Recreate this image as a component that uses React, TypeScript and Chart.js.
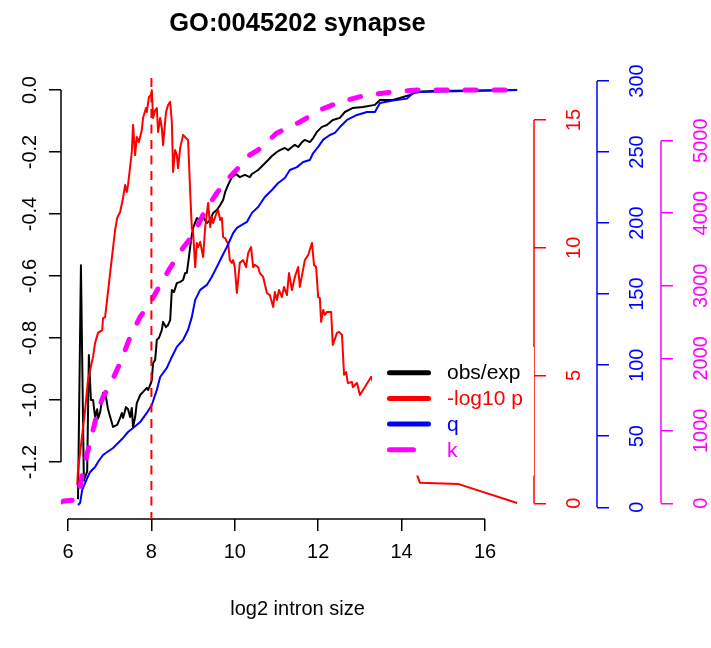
import React, { useEffect, useRef } from "react";
import { Chart, registerables } from "chart.js";

Chart.register(...registerables);

const TITLE = "GO:0045202 synapse";
const X_TITLE = "log2 intron size";
const X_TICKS = [6, 8, 10, 12, 14, 16];
const OBS_TICKS = [-1.2, -1.0, -0.8, -0.6, -0.4, -0.2, 0.0];
const P_TICKS = [0, 5, 10, 15];
const Q_TICKS = [0, 50, 100, 150, 200, 250, 300];
const K_TICKS = [0, 1000, 2000, 3000, 4000, 5000];
const CUTOFF_X = 8;
const LEGEND_LABELS = ["obs/exp", "-log10 p", "q", "k"];

// obs/exp
const obsX = [6.24, 6.31, 6.38, 6.46, 6.5, 6.55, 6.6, 6.65, 6.7, 6.72, 6.77, 6.84, 6.89, 6.96, 7.08, 7.18, 7.25, 7.29, 7.32, 7.39, 7.44, 7.49, 7.53, 7.56, 7.61, 7.65, 7.73, 7.8, 7.89, 7.92, 7.99, 8.01, 8.04, 8.09, 8.13, 8.18, 8.25, 8.28, 8.35, 8.4, 8.45, 8.49, 8.54, 8.61, 8.69, 8.76, 8.81, 8.85, 8.9, 8.95, 9.0, 9.09, 9.17, 9.24, 9.33, 9.41, 9.48, 9.57, 9.65, 9.72, 9.77, 9.84, 9.93, 10.03, 10.12, 10.24, 10.36, 10.41, 10.56, 10.68, 10.8, 10.89, 11.01, 11.08, 11.2, 11.28, 11.37, 11.44, 11.52, 11.61, 11.68, 11.8, 11.88, 11.97, 12.09, 12.21, 12.35, 12.52, 12.64, 12.83, 13.07, 13.36, 13.48, 13.79, 13.96, 14.2, 14.37, 14.75, 16.77];
const obsY = [-1.32, -0.565, -1.26, -1.23, -0.855, -1.0, -1.0, -1.055, -1.03, -1.06, -1.04, -0.977, -0.974, -1.03, -1.087, -1.08, -1.058, -1.042, -1.058, -1.023, -1.03, -1.055, -1.026, -1.087, -1.055, -1.01, -0.984, -0.974, -0.961, -0.968, -0.945, -0.935, -0.881, -0.871, -0.806, -0.8, -0.774, -0.748, -0.765, -0.758, -0.742, -0.645, -0.652, -0.623, -0.619, -0.613, -0.59, -0.59, -0.539, -0.484, -0.445, -0.413, -0.419, -0.41, -0.429, -0.419, -0.397, -0.387, -0.371, -0.355, -0.329, -0.306, -0.281, -0.271, -0.281, -0.274, -0.281, -0.271, -0.258, -0.242, -0.226, -0.213, -0.2, -0.194, -0.187, -0.194, -0.184, -0.177, -0.184, -0.168, -0.161, -0.168, -0.155, -0.135, -0.119, -0.113, -0.097, -0.09, -0.071, -0.058, -0.055, -0.048, -0.032, -0.032, -0.026, -0.016, -0.006, -0.003, 0.0];

// -log10 p
const pX = [6.22, 6.24, 6.41, 6.48, 6.6, 6.65, 6.72, 6.82, 6.84, 6.89, 7.01, 7.13, 7.18, 7.25, 7.32, 7.37, 7.41, 7.44, 7.53, 7.56, 7.61, 7.65, 7.7, 7.77, 7.8, 7.87, 7.89, 7.94, 7.99, 8.01, 8.04, 8.09, 8.13, 8.16, 8.21, 8.25, 8.28, 8.35, 8.4, 8.45, 8.49, 8.52, 8.57, 8.61, 8.64, 8.69, 8.76, 8.83, 8.88, 8.93, 8.97, 9.0, 9.05, 9.09, 9.12, 9.17, 9.24, 9.29, 9.36, 9.41, 9.45, 9.48, 9.57, 9.6, 9.65, 9.69, 9.72, 9.77, 9.81, 9.84, 9.88, 9.93, 9.96, 10.0, 10.05, 10.12, 10.2, 10.27, 10.32, 10.39, 10.44, 10.48, 10.56, 10.6, 10.68, 10.77, 10.84, 10.92, 10.96, 11.01, 11.06, 11.13, 11.18, 11.25, 11.3, 11.37, 11.44, 11.52, 11.56, 11.68, 11.76, 11.85, 11.9, 11.95, 12.0, 12.04, 12.07, 12.12, 12.16, 12.21, 12.31, 12.35, 12.45, 12.5, 12.57, 12.62, 12.67, 12.71, 12.81, 12.83, 12.93, 13.0, 13.12, 13.27, 13.72, 14.2, 14.37, 14.44, 15.35, 16.77];
const pY = [0.72, 1.3, 3.65, 4.83, 5.73, 6.28, 6.67, 6.78, 7.25, 7.29, 9.01, 10.7, 11.17, 11.4, 11.95, 12.46, 12.18, 12.46, 13.75, 14.81, 13.63, 14.34, 14.14, 14.61, 15.08, 15.47, 15.31, 15.9, 15.98, 16.17, 15.08, 15.39, 15.47, 14.53, 15.08, 14.69, 14.02, 15.31, 15.59, 15.71, 14.93, 12.97, 13.83, 13.63, 13.12, 13.91, 14.42, 14.3, 14.22, 12.18, 10.77, 10.62, 9.24, 10.19, 10.03, 10.23, 9.64, 10.81, 11.75, 10.81, 11.21, 10.97, 11.4, 11.48, 11.09, 11.17, 10.42, 10.38, 10.23, 10.19, 9.52, 9.41, 9.52, 9.24, 8.23, 9.41, 9.52, 9.24, 9.79, 10.03, 9.24, 9.33, 9.24, 9.01, 8.86, 8.23, 8.15, 7.68, 8.27, 7.96, 8.35, 8.07, 8.47, 8.15, 9.01, 8.35, 8.86, 9.25, 8.47, 9.52, 9.72, 10.19, 9.33, 9.25, 8.07, 8.03, 7.1, 7.57, 7.37, 7.49, 7.49, 6.2, 6.67, 6.71, 6.59, 5.03, 5.14, 4.71, 4.75, 4.55, 4.71, 4.24, 4.55, 4.95, 2.87, 1.38, 1.11, 0.8, 0.76, 0.01];

// q
const qX = [6.24, 6.29, 6.34, 6.46, 6.53, 6.65, 6.72, 6.84, 6.94, 7.08, 7.2, 7.32, 7.44, 7.56, 7.73, 7.89, 8.01, 8.13, 8.21, 8.37, 8.49, 8.61, 8.76, 8.88, 8.97, 9.05, 9.17, 9.33, 9.45, 9.57, 9.69, 9.81, 9.96, 10.05, 10.17, 10.29, 10.41, 10.56, 10.72, 10.89, 11.04, 11.2, 11.32, 11.49, 11.64, 11.8, 11.88, 12.0, 12.12, 12.28, 12.4, 12.52, 12.69, 12.93, 13.17, 13.36, 13.48, 13.79, 14.13, 14.27, 14.44, 16.77];
const qY = [1.6, 3.0, 12.2, 20.6, 24.8, 28.4, 31.9, 36.8, 38.9, 41.7, 45.3, 48.8, 53.0, 55.8, 60.0, 66.4, 72.0, 82.6, 91.7, 98.1, 105.8, 112.9, 117.8, 124.9, 134.0, 146.0, 153.0, 156.5, 162.2, 169.2, 176.3, 183.2, 193.0, 196.6, 198.7, 200.8, 207.2, 211.3, 218.4, 223.3, 228.2, 231.7, 237.4, 239.4, 243.0, 244.4, 249.3, 253.6, 258.7, 262.0, 263.5, 267.6, 272.6, 276.1, 278.2, 278.2, 284.5, 286.3, 287.6, 291.6, 292.3, 293.7];

// k
const kX = [5.84, 5.9, 6.19, 6.29, 6.36, 6.48, 6.6, 6.72, 6.84, 7.01, 7.25, 7.49, 7.73, 7.97, 8.21, 8.45, 8.76, 9.0, 9.24, 9.41, 9.57, 9.81, 10.08, 10.36, 10.56, 11.01, 11.56, 12.04, 12.52, 13.17, 13.79, 14.37, 16.77];
const kY = [18, 32, 45, 225, 459, 735, 1011, 1287, 1466, 1631, 1935, 2294, 2570, 2763, 3013, 3248, 3524, 3703, 3979, 4141, 4279, 4458, 4624, 4803, 4872, 5107, 5258, 5424, 5534, 5631, 5672, 5700, 5700];

const X_MIN = 5.832;
const X_MAX = 17.175;
const OBS_MIN = -1.3839;
const OBS_MAX = 0.0387;
const P_MIN = -0.6145;
const P_MAX = 16.646;
const Q_MIN = -8.234;
const Q_MAX = 302.11;
const K_MIN = -216.5;
const K_MAX = 5864.9;

const RED = "#ff0000";
const BLUE = "#0000ff";
const MAGENTA = "#ff00ff";
const BLACK = "#000000";
const LEGEND_COLORS = [BLACK, RED, BLUE, MAGENTA];
const FONT = "'Liberation Sans', Arial, Helvetica, sans-serif";

const pts = (xs: number[], ys: number[]) => xs.map((x, i) => ({ x, y: ys[i] }));

const axisSpecs = [
  { id: "y", ticks: OBS_TICKS, color: BLACK, side: "left", fmt: (v: number) => v.toFixed(1) },
  { id: "yP", ticks: P_TICKS, color: RED, side: "right", fmt: (v: number) => String(v) },
  { id: "yQ", ticks: Q_TICKS, color: BLUE, side: "right", fmt: (v: number) => String(v) },
  { id: "yK", ticks: K_TICKS, color: MAGENTA, side: "right", fmt: (v: number) => String(v) },
];

const rAxesPlugin = {
  id: "rAxes",
  beforeDatasetsDraw(chart: any) {
    const ctx = chart.ctx;
    ctx.save();
    ctx.lineWidth = 1.5;
    ctx.font = `20px ${FONT}`;
    for (const spec of axisSpecs) {
      const s = chart.scales[spec.id];
      const x = spec.side === "left" ? s.right : s.left;
      ctx.strokeStyle = spec.color;
      ctx.beginPath();
      ctx.moveTo(x, s.getPixelForValue(spec.ticks[0]));
      ctx.lineTo(x, s.getPixelForValue(spec.ticks[spec.ticks.length - 1]));
      ctx.stroke();
      ctx.fillStyle = spec.color;
      for (const v of spec.ticks) {
        const py = s.getPixelForValue(v);
        ctx.save();
        ctx.translate(spec.side === "left" ? s.right - 25 : s.left + 46, py);
        ctx.rotate(-Math.PI / 2);
        ctx.textAlign = "center";
        ctx.textBaseline = "alphabetic";
        ctx.fillText(spec.fmt(v), 0, 0);
        ctx.restore();
      }
    }
    const sx = chart.scales.x;
    ctx.strokeStyle = BLACK;
    ctx.beginPath();
    ctx.moveTo(sx.getPixelForValue(X_TICKS[0]), sx.top);
    ctx.lineTo(sx.getPixelForValue(X_TICKS[X_TICKS.length - 1]), sx.top);
    ctx.stroke();
    ctx.restore();
  },
};

const rLegendPlugin = {
  id: "rLegend",
  afterDatasetsDraw(chart: any) {
    const ctx = chart.ctx;
    const right = chart.chartArea.right;
    const left = 372;
    const top = 347;
    const rowH = 25.7;
    ctx.save();
    ctx.fillStyle = "#ffffff";
    ctx.fillRect(left, top, right - left, rowH * 5);
    ctx.lineWidth = 5;
    ctx.lineCap = "round";
    ctx.font = `21px ${FONT}`;
    ctx.textAlign = "left";
    ctx.textBaseline = "middle";
    LEGEND_LABELS.forEach((label, i) => {
      const y = top + rowH * (i + 1);
      ctx.strokeStyle = LEGEND_COLORS[i];
      ctx.setLineDash(i === 3 ? [24, 100] : []);
      ctx.beginPath();
      ctx.moveTo(389.5, y);
      ctx.lineTo(428.5, y);
      ctx.stroke();
      ctx.fillStyle = LEGEND_COLORS[i];
      ctx.fillText(label, 447, y + 1);
    });
    ctx.restore();
  },
};

const rTitlePlugin = {
  id: "rTitle",
  afterDraw(chart: any) {
    const ctx = chart.ctx;
    const { left, right } = chart.chartArea;
    ctx.save();
    ctx.font = `bold 25.5px ${FONT}`;
    ctx.fillStyle = BLACK;
    ctx.textAlign = "center";
    ctx.textBaseline = "alphabetic";
    ctx.fillText(TITLE, (left + right) / 2, 31);
    ctx.restore();
  },
};

const tickGrid = (color: string) => ({
  display: true,
  drawOnChartArea: false,
  drawTicks: true,
  tickLength: 12,
  color,
  lineWidth: 1.5,
});

const setTicks = (values: number[]) => (s: any) => {
  s.ticks = values.map((v) => ({ value: v }));
};

export default function App() {
  const ref = useRef<HTMLCanvasElement>(null);
  useEffect(() => {
    const canvas = ref.current;
    if (!canvas) return;
    Chart.defaults.font.family = FONT;
    Chart.defaults.font.size = 20;
    const line = { pointRadius: 0, tension: 0, borderJoinStyle: "round" as const, fill: false };
    const chart = new Chart(canvas, {
      type: "line",
      data: {
        datasets: [
          { ...line, label: "cutoff", data: [{ x: CUTOFF_X, y: OBS_MAX }, { x: CUTOFF_X, y: OBS_MIN }], yAxisID: "y", borderColor: RED, borderWidth: 2, borderDash: [9, 6.5], order: 0 },
          { ...line, label: "k", data: pts(kX, kY), yAxisID: "yK", borderColor: MAGENTA, borderWidth: 5, borderDash: [11, 18], borderCapStyle: "round", order: 1 },
          { ...line, label: "q", data: pts(qX, qY), yAxisID: "yQ", borderColor: BLUE, borderWidth: 2, order: 2 },
          { ...line, label: "-log10 p", data: pts(pX, pY), yAxisID: "yP", borderColor: RED, borderWidth: 2, order: 3 },
          { ...line, label: "obs/exp", data: pts(obsX, obsY), yAxisID: "y", borderColor: BLACK, borderWidth: 2, order: 4 },
        ],
      },
      options: {
        responsive: false,
        animation: false,
        events: [],
        layout: { padding: { top: 78, left: 0, right: 0, bottom: 0 } },
        plugins: { legend: { display: false }, tooltip: { enabled: false }, title: { display: false } },
        scales: {
          x: {
            type: "linear",
            position: "bottom",
            min: X_MIN,
            max: X_MAX,
            afterBuildTicks: setTicks(X_TICKS),
            afterFit: (s: any) => { s.height = 129; },
            grid: tickGrid(BLACK),
            border: { display: false },
            ticks: { autoSkip: false, maxRotation: 0, color: BLACK, font: { size: 20 }, padding: 9, callback: (v: any) => String(v) },
            title: { display: true, text: X_TITLE, color: BLACK, font: { size: 20 }, padding: { top: 0, bottom: 27 } },
          },
          y: {
            type: "linear",
            position: "left",
            min: OBS_MIN,
            max: OBS_MAX,
            afterBuildTicks: setTicks(OBS_TICKS),
            afterFit: (s: any) => { s.width = 61; },
            grid: tickGrid(BLACK),
            border: { display: false },
            ticks: { display: false },
          },
          yP: {
            type: "linear",
            position: "right",
            weight: 1,
            min: P_MIN,
            max: P_MAX,
            afterBuildTicks: setTicks(P_TICKS),
            afterFit: (s: any) => { s.width = 63; },
            grid: tickGrid(RED),
            border: { display: false },
            ticks: { display: false },
          },
          yQ: {
            type: "linear",
            position: "right",
            weight: 2,
            min: Q_MIN,
            max: Q_MAX,
            afterBuildTicks: setTicks(Q_TICKS),
            afterFit: (s: any) => { s.width = 64; },
            grid: tickGrid(BLUE),
            border: { display: false },
            ticks: { display: false },
          },
          yK: {
            type: "linear",
            position: "right",
            weight: 3,
            min: K_MIN,
            max: K_MAX,
            afterBuildTicks: setTicks(K_TICKS),
            afterFit: (s: any) => { s.width = 50; },
            grid: tickGrid(MAGENTA),
            border: { display: false },
            ticks: { display: false },
          },
        },
      } as any,
      plugins: [rAxesPlugin, rLegendPlugin, rTitlePlugin],
    });
    return () => chart.destroy();
  }, []);
  return (
    <div style={{ position: "absolute", left: 0, top: 0, width: 711, height: 648, background: "#ffffff" }}>
      <canvas ref={ref} width={711} height={648} style={{ display: "block" }} />
    </div>
  );
}
